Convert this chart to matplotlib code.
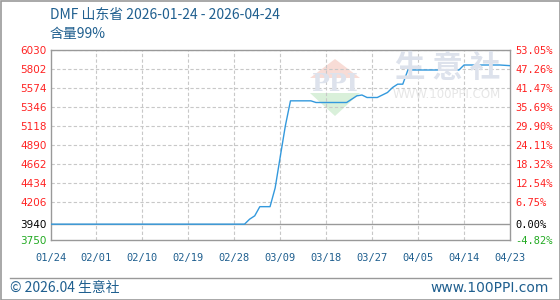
import matplotlib
matplotlib.use('Agg')
from matplotlib import pyplot as plt
from matplotlib.patches import Polygon
import pandas as pd

plt.rcParams['font.family'] = ['DejaVu Sans', 'Noto Sans CJK SC']

# readings (date, price) where the line changes
dates = ['2026-01-24', '2026-03-03', '2026-03-04', '2026-03-05', '2026-03-06',
         '2026-03-08', '2026-03-09', '2026-03-10', '2026-03-11', '2026-03-12',
         '2026-03-16', '2026-03-17', '2026-03-23', '2026-03-24', '2026-03-25',
         '2026-03-26', '2026-03-27', '2026-03-29', '2026-03-30', '2026-03-31',
         '2026-04-01', '2026-04-02', '2026-04-03', '2026-04-04', '2026-04-14',
         '2026-04-15', '2026-04-22', '2026-04-24']
prices = [3940, 3940, 4000, 4040, 4150,
          4150, 4374, 4750, 5120, 5420,
          5420, 5400, 5400, 5440, 5480,
          5490, 5460, 5460, 5490, 5520,
          5580, 5620, 5620, 5790, 5790,
          5850, 5850, 5842]

base_price = 3940
y_ticks = [3750, 3940, 4206, 4434, 4662, 4890, 5118, 5346, 5574, 5802, 6030]
x_labels = ['01/24', '02/01', '02/10', '02/19', '02/28', '03/09',
            '03/18', '03/27', '04/05', '04/14', '04/23']

title = 'DMF 山东省 2026-01-24 - 2026-04-24'
subtitle = '含量99%'
cjk = ['Noto Sans CJK SC', 'DejaVu Sans']
blue_txt = '#1f5f8f'

start = pd.Timestamp(dates[0])
days = [(pd.Timestamp(d) - start).days for d in dates]
x_pos = [9 * i for i in range(len(x_labels))]

fig = plt.figure(figsize=(5.6, 3.0), dpi=100)
ax = fig.add_axes([50.5 / 560, 60 / 300, 459.5 / 560, 190 / 300])
ax.set_xlim(0, 90)
ax.set_ylim(y_ticks[0], y_ticks[-1])

# watermark (pixel coords, y from top)
def px(x, y):
    return [x / 560, 1 - y / 300]

fig.add_artist(Polygon([px(310, 78), px(335, 59), px(360, 78)], closed=True,
                       transform=fig.transFigure, facecolor='#f8dcd6',
                       edgecolor='none', zorder=0))
fig.add_artist(Polygon([px(310, 93), px(335, 116), px(360, 93)], closed=True,
                       transform=fig.transFigure, facecolor='#d9f0da',
                       edgecolor='none', zorder=0))
wm = '#dde2ec'
fig.text(*px(335, 84), 'PPI', fontsize=17, fontweight='bold', color=wm,
         ha='center', va='center', family='DejaVu Serif', zorder=0)
fig.text(*px(448, 68), '生 意 社', fontsize=22, fontweight='bold', color=wm,
         ha='center', va='center', family=cjk, zorder=0)
fig.text(*px(447, 94), 'WWW.100PPI.COM', fontsize=8.5, color='#e6e6e6',
         ha='center', va='center', zorder=0)
ax.patch.set_alpha(0)

# grid
for v in y_ticks[2:]:
    ax.axhline(v, color='#c8c8c8', lw=0.8, ls=(0, (3, 2)), zorder=1)
for d in x_pos[1:-1]:
    ax.axvline(d, color='#c8c8c8', lw=0.8, ls=(0, (3, 2)), zorder=1)
ax.axhline(base_price, color='#999999', lw=1, zorder=1)

ax.plot(days, prices, color='#3399dd', lw=1.0, zorder=3)

for s in ax.spines.values():
    s.set_color('#999999')
    s.set_linewidth(1)

ax.set_xticks(x_pos)
ax.set_xticklabels(x_labels, family='DejaVu Sans Mono', color=blue_txt)
ax.tick_params(axis='x', length=0, pad=9, labelsize=7.5)
ax.set_yticks(y_ticks)
ax.tick_params(axis='y', length=0, pad=22, labelsize=7.5)
ax.set_yticklabels([str(v) for v in y_ticks], ha='left')
for lbl, v in zip(ax.get_yticklabels(), y_ticks):
    lbl.set_color('black' if v == base_price else ('#22aa22' if v < base_price else '#ff2222'))

ax2 = ax.twinx()
ax2.set_ylim(ax.get_ylim())
ax2.set_yticks(y_ticks)
pct = ['%.2f%%' % ((v - base_price) / base_price * 100) for v in y_ticks]
ax2.set_yticklabels(pct, family='DejaVu Sans Mono')
ax2.tick_params(axis='y', length=0, pad=4, labelsize=7.5)
for lbl, v in zip(ax2.get_yticklabels(), y_ticks):
    lbl.set_color('black' if v == base_price else ('#22aa22' if v < base_price else '#ff2222'))
for s in ax2.spines.values():
    s.set_visible(False)

fig.text(*px(50, 15), title, fontsize=10, color=blue_txt,
         ha='left', va='center', family=cjk)
fig.text(*px(50, 34), subtitle, fontsize=10, color=blue_txt,
         ha='left', va='center', family=cjk)

# footer
fig.add_artist(plt.Line2D([10 / 560, 551 / 560], [1 - 277.5 / 300] * 2,
                          color='#999999', lw=1))
fig.text(*px(10, 288), '© 2026.04 生意社', fontsize=10, color=blue_txt,
         ha='left', va='center', family=cjk)
fig.text(*px(549, 288), 'www.100PPI.com', fontsize=10, color=blue_txt,
         ha='right', va='center')
fig.add_artist(plt.Rectangle((0.5 / 560, 0.5 / 300), 559 / 560, 299 / 300,
                             fill=False, edgecolor='#999999', lw=1.2))

fig.savefig('out.png', dpi=100)
